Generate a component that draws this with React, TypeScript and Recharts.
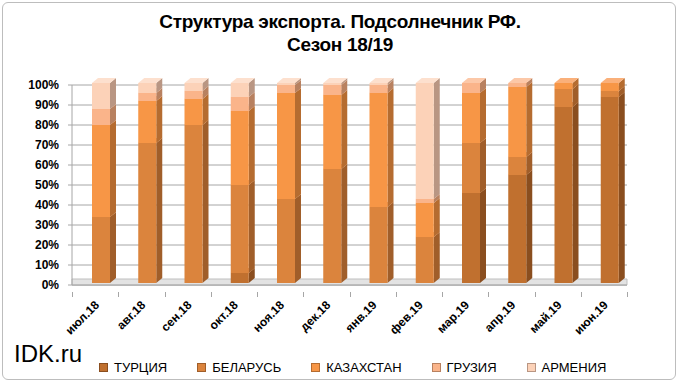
import { BarChart, Bar, XAxis, YAxis, CartesianGrid, ReferenceArea } from 'recharts';

const months = ['июл.18', 'авг.18', 'сен.18', 'окт.18', 'ноя.18', 'дек.18', 'янв.19', 'фев.19', 'мар.19', 'апр.19', 'май.19', 'июн.19'];

const turkey = [0, 0, 0, 5, 0, 0, 0, 0, 45, 54, 88, 93];
const belarus = [33, 70, 79, 44, 42, 57, 38, 23, 25, 9, 9, 3];
const kazakhstan = [46, 21, 13, 37, 53, 37, 57, 17, 25, 35, 3, 4];
const georgia = [8, 4, 4, 7, 4, 5, 4, 2, 5, 2, 0, 0];
const armenia = [13, 5, 4, 7, 1, 1, 1, 58, 0, 0, 0, 0];

const yTicks = [0, 10, 20, 30, 40, 50, 60, 70, 80, 90, 100];

const series = [
  { key: 'turkey', name: 'ТУРЦИЯ', color: '#C0702F', side: '#8A4E1F', top: '#D08A55' },
  { key: 'belarus', name: 'БЕЛАРУСЬ', color: '#DB843D', side: '#A05E2A', top: '#E8A06A' },
  { key: 'kazakhstan', name: 'КАЗАХСТАН', color: '#F79646', side: '#B56C30', top: '#FAB07A' },
  { key: 'georgia', name: 'ГРУЗИЯ', color: '#FAB48A', side: '#B88160', top: '#FCC8A8' },
  { key: 'armenia', name: 'АРМЕНИЯ', color: '#FCD2B8', side: '#B99683', top: '#FDE0CE' },
];

const data = months.map((m, i) => ({
  month: m,
  turkey: turkey[i],
  belarus: belarus[i],
  kazakhstan: kazakhstan[i],
  georgia: georgia[i],
  armenia: armenia[i],
}));

// chart geometry
const W = 680;
const H = 384;
const PLOT_LEFT = 72;
const PLOT_RIGHT = 627;
const PLOT_TOP = 85;
const PLOT_BOTTOM = 285;
const BAND = (PLOT_RIGHT - PLOT_LEFT) / months.length;
const GRID = '#A6A6A6';

// 3d look of the bars
const BAR_SHIFT_X = 6;
const BAR_SHIFT_Y = 2;
const DX = 6;
const DY = 5;

function makeShape(color: string, side: string, top: string) {
  return (props: any) => {
    const { width, height } = props;
    const x = props.x + BAR_SHIFT_X;
    const y = props.y - BAR_SHIFT_Y;
    if (!height || height <= 0) return <g />;
    return (
      <g>
        <polygon
          points={`${x + width},${y} ${x + width + DX},${y - DY} ${x + width + DX},${y + height - DY} ${x + width},${y + height}`}
          fill={side}
        />
        <polygon
          points={`${x},${y} ${x + DX},${y - DY} ${x + width + DX},${y - DY} ${x + width},${y}`}
          fill={top}
        />
        <rect x={x} y={y} width={width} height={height} fill={color} />
      </g>
    );
  };
}

const XTick = (props: any) => {
  const { x, y, payload, index } = props;
  const last = index === months.length - 1;
  return (
    <g>
      <rect x={Math.round(x - BAND / 2)} y={y - 1} width={1} height={5} fill={GRID} />
      {last && <rect x={Math.round(x + BAND / 2)} y={y - 1} width={1} height={5} fill={GRID} />}
      <g transform={`translate(${x + 2},${y + 10}) rotate(-45)`}>
        <text x={0} y={0} dy={4} textAnchor="end" fontSize={12} fontWeight="bold" fill="#000">
          {payload.value}
        </text>
      </g>
    </g>
  );
};

export default function App() {
  return (
    <div
      style={{
        position: 'absolute',
        left: 0,
        top: 0,
        width: W,
        height: H,
        background: '#fff',
        fontFamily: '"Liberation Sans", Arial, sans-serif',
      }}
    >
      <div
        style={{
          position: 'absolute',
          left: 2,
          top: 2,
          width: 672,
          height: 376,
          border: '1.5px solid #BDBDBD',
          borderRadius: 6,
        }}
      />
      <div
        style={{
          position: 'absolute',
          left: 0,
          top: 10,
          width: W,
          textAlign: 'center',
          fontWeight: 'bold',
          fontSize: 19,
          lineHeight: '23px',
          letterSpacing: -0.3,
        }}
      >
        Структура экспорта. Подсолнечник РФ.
        <br />
        Сезон 18/19
      </div>
      <BarChart
        width={W}
        height={H}
        data={data}
        margin={{ top: PLOT_TOP, right: W - PLOT_RIGHT, left: 0, bottom: 0 }}
        barSize={18}
      >
        <CartesianGrid vertical={false} stroke={GRID} />
        <ReferenceArea y1={0} y2={3} fill="#E3E3E3" fillOpacity={1} stroke="#BFBFBF" ifOverflow="visible" />
        <XAxis
          dataKey="month"
          height={H - PLOT_BOTTOM}
          interval={0}
          tick={<XTick />}
          tickLine={false}
          axisLine={{ stroke: GRID }}
        />
        <YAxis
          width={PLOT_LEFT}
          domain={[0, 100]}
          ticks={yTicks}
          interval={0}
          tickFormatter={(v) => `${v}%`}
          tick={{ fontSize: 12, fontWeight: 'bold', fill: '#000' }}
          tickLine={{ stroke: GRID }}
          axisLine={{ stroke: GRID }}
          tickSize={4}
          tickMargin={9}
        />
        {series.map((s) => (
          <Bar
            key={s.key}
            dataKey={s.key}
            name={s.name}
            stackId="a"
            fill={s.color}
            shape={makeShape(s.color, s.side, s.top)}
            isAnimationActive={false}
          />
        ))}
      </BarChart>
      <div style={{ position: 'absolute', left: 14, top: 340, fontSize: 24, color: '#000' }}>IDK.ru</div>
      <div
        style={{
          position: 'absolute',
          left: 99,
          top: 360,
          display: 'flex',
          gap: 30,
          fontSize: 13,
          color: '#000',
        }}
      >
        {series.map((s) => (
          <div key={s.key} style={{ display: 'flex', alignItems: 'center' }}>
            <span
              style={{
                display: 'inline-block',
                width: 7,
                height: 7,
                background: s.color,
                border: `1px solid ${s.side}`,
                marginRight: 6,
              }}
            />
            {s.name}
          </div>
        ))}
      </div>
    </div>
  );
}
